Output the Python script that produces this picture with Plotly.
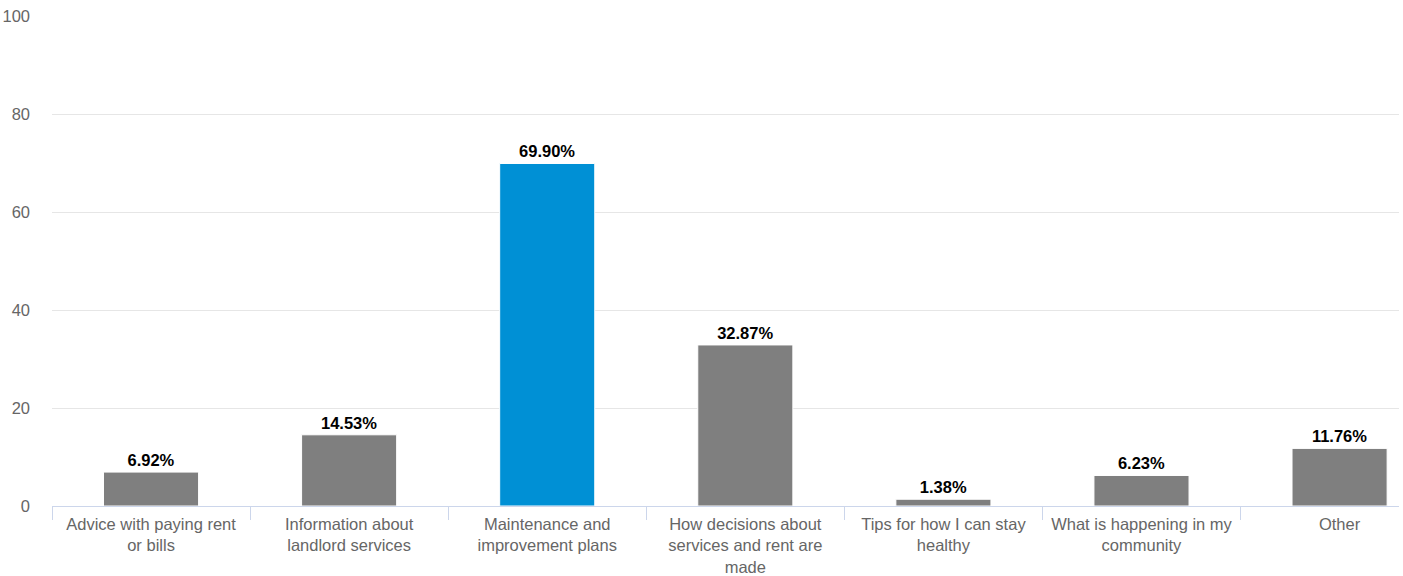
import plotly.graph_objects as go

categories = [
    "Advice with paying rent or bills",
    "Information about landlord services",
    "Maintenance and improvement plans",
    "How decisions about services and rent are made",
    "Tips for how I can stay healthy",
    "What is happening in my community",
    "Other",
]
tick_labels = [
    "Advice with paying rent<br>or bills",
    "Information about<br>landlord services",
    "Maintenance and<br>improvement plans",
    "How decisions about<br>services and rent are<br>made",
    "Tips for how I can stay<br>healthy",
    "What is happening in my<br>community",
    "Other",
]
values = [6.92, 14.53, 69.90, 32.87, 1.38, 6.23, 11.76]
highlight = "Maintenance and improvement plans"

colors = ["#0090d5" if c == highlight else "#7f7f7f" for c in categories]

fig = go.Figure(
    go.Bar(
        x=categories,
        y=values,
        marker=dict(color=colors, line=dict(color="#ffffff", width=1)),
        width=0.48,
        text=[f"{v:.2f}%" for v in values],
        textposition="outside",
        textfont=dict(family="Liberation Sans, Arial, sans-serif", size=16.5, color="#000000"),
        texttemplate="<b>%{text}</b>",
        cliponaxis=False,
        hoverinfo="skip",
    )
)

fig.update_layout(
    width=1403,
    height=576,
    margin=dict(l=52, r=4, t=16, b=70),
    paper_bgcolor="#ffffff",
    plot_bgcolor="#ffffff",
    font=dict(family="Liberation Sans, Arial, sans-serif", size=16.5, color="#666666"),
    showlegend=False,
    bargap=0.52,
)
fig.update_xaxes(
    type="category",
    range=[-0.5, 6.3],
    tickmode="array",
    tickvals=categories,
    ticktext=tick_labels,
    tickson="boundaries",
    ticks="outside",
    ticklen=13,
    tickcolor="#ccd6eb",
    showline=True,
    linecolor="#ccd6eb",
    linewidth=1,
    showgrid=False,
    automargin=False,
    ticklabelstandoff=3,
    tickfont=dict(size=16.5, color="#666666"),
)
fig.update_yaxes(
    range=[0, 100],
    tickvals=[0, 20, 40, 60, 80, 100],
    showgrid=True,
    gridcolor="#e6e6e6",
    gridwidth=1,
    zeroline=False,
    ticks="",
    automargin=False,
    ticklabelstandoff=21,
    tickfont=dict(size=16.5, color="#666666"),
)

fig.write_html("out.html")
